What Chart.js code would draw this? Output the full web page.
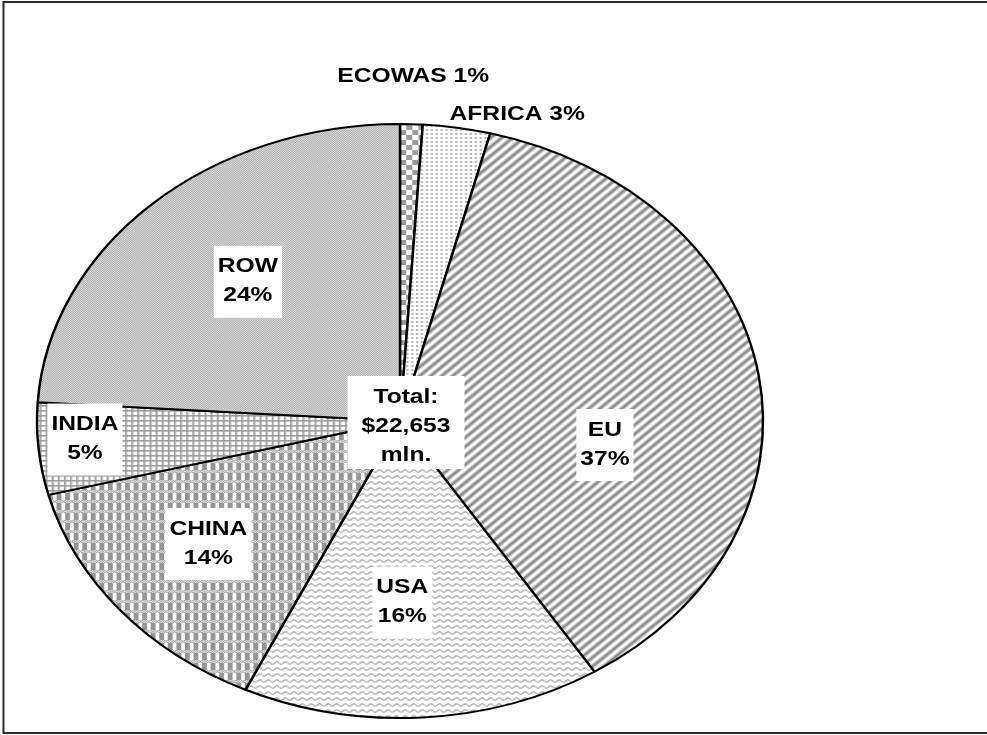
<!DOCTYPE html>
<html>
<head>
<meta charset="utf-8">
<script src="https://cdn.jsdelivr.net/npm/chart.js@4.4.1/dist/chart.umd.min.js"></script>
<style>
  html, body { margin: 0; padding: 0; background: #ffffff; }
  #wrap { position: relative; width: 987px; height: 735px; }
</style>
</head>
<body>
<div id="wrap"><canvas id="pie" width="987" height="735"></canvas></div>
<script>
// Export destinations and their share of the total (percent)
const regions = ['ECOWAS', 'AFRICA', 'EU', 'USA', 'CHINA', 'INDIA', 'ROW'];
const shares = [1, 3, 37, 16, 14, 5, 24];
const totalLines = ['Total:', '$22,653', 'mln.'];

// Where each label sits: angle shift from the slice middle (deg) and distance as a fraction of the radius
const labelPlacement = [
  { turn: 0,   reach: 1.16, boxed: false, oneLine: true },
  { turn: 8.4, reach: 1.08, boxed: false, oneLine: true },
  { turn: 17,  reach: 0.57, boxed: true,  oneLine: false },
  { turn: 3,   reach: 0.61, boxed: true,  oneLine: false },
  { turn: 1.6, reach: 0.67, boxed: true,  oneLine: false },
  { turn: 1.4, reach: 0.87, boxed: true,  oneLine: false },
  { turn: 1.5, reach: 0.63, boxed: true,  oneLine: false }
];

const STRETCH = 363 / 297;       // the pie is drawn as a wide ellipse
const FONT = 'bold 20px "Liberation Sans", Arial, Helvetica, sans-serif';
const TEXT_STRETCH = 1.23;
const LINE_GAP = 29;

function tile(w, h, paint) {
  const c = document.createElement('canvas');
  c.width = w; c.height = h;
  const g = c.getContext('2d');
  g.fillStyle = '#ffffff';
  g.fillRect(0, 0, w, h);
  paint(g, w, h);
  return document.createElement('canvas').getContext('2d').createPattern(c, 'repeat');
}

const fills = [
  // ECOWAS: coarse checkerboard
  tile(10, 10, (g) => {
    g.fillStyle = '#9c9c9c';
    g.fillRect(0, 0, 5, 5);
    g.fillRect(5, 5, 5, 5);
  }),
  // AFRICA: small dots
  tile(4, 4, (g) => {
    g.fillStyle = '#bcbcbc';
    g.fillRect(1, 1, 2, 2);
  }),
  // EU: wide soft diagonal stripes
  tile(9, 9, (g) => {
    g.lineCap = 'butt';
    [[4.2, '#d0d0d0'], [2.4, '#9a9a9a'], [1.2, '#8a8a8a']].forEach(([lw, col]) => {
      g.strokeStyle = col;
      g.lineWidth = lw;
      [0, 9, 18].forEach((c) => {
        g.beginPath();
        g.moveTo(c - 18, 18);
        g.lineTo(c + 18, -18);
        g.stroke();
      });
    });
  }),
  // USA: wavy lines
  tile(7, 6, (g) => {
    g.strokeStyle = '#a6a6a6';
    g.lineWidth = 1.1;
    g.beginPath();
    for (let x = 0; x <= 7; x += 0.25) {
      const y = 3 + 1.2 * Math.sin((2 * Math.PI * x) / 7);
      if (x === 0) g.moveTo(x, y); else g.lineTo(x, y);
    }
    g.stroke();
  }),
  // CHINA: plaid of blocks and dithered bands
  tile(7, 10, (g) => {
    for (let y = 0; y < 3; y++) {
      for (let x = 0; x < 7; x++) {
        g.fillStyle = (x + y) % 2 === 0 ? '#a8a8a8' : '#e4e4e4';
        g.fillRect(x, y, 1, 1);
      }
    }
    g.fillStyle = '#959595';
    g.fillRect(0, 3, 4, 7);
  }),
  // INDIA: open grid
  tile(5, 5, (g) => {
    g.fillStyle = '#9e9e9e';
    g.fillRect(0, 0, 5, 1.6);
    g.fillRect(0, 0, 1.6, 5);
  }),
  // ROW: fine dither
  tile(2, 2, (g) => {
    g.fillStyle = '#a6a6a6';
    g.fillRect(0, 0, 1, 1);
    g.fillRect(1, 1, 1, 1);
    g.fillStyle = '#e4e4e4';
    g.fillRect(1, 0, 1, 1);
    g.fillRect(0, 1, 1, 1);
  })
];

// Stretch the circular pie horizontally about its centre
const ellipsePlugin = {
  id: 'ellipse',
  beforeDatasetsDraw(chart) {
    const arc = chart.getDatasetMeta(0).data[0];
    const ctx = chart.ctx;
    ctx.save();
    ctx.translate(arc.x, 0);
    ctx.scale(STRETCH, 1);
    ctx.translate(-arc.x, 0);
  },
  afterDatasetsDraw(chart) {
    chart.ctx.restore();
  }
};

function drawBlock(ctx, lines, cx, cy, boxed, padX, padTop, padBottom) {
  ctx.font = FONT;
  const widths = lines.map((t) => ctx.measureText(t).width * TEXT_STRETCH);
  const w = Math.max(...widths);
  const first = cy - ((lines.length - 1) * LINE_GAP) / 2;
  const last = first + (lines.length - 1) * LINE_GAP;
  if (boxed) {
    ctx.fillStyle = '#ffffff';
    ctx.fillRect(cx - w / 2 - padX, first - padTop, w + 2 * padX, last - first + padTop + padBottom);
  }
  ctx.fillStyle = '#000000';
  ctx.textAlign = 'center';
  ctx.textBaseline = 'middle';
  lines.forEach((t, i) => {
    ctx.save();
    ctx.translate(cx, first + i * LINE_GAP);
    ctx.scale(TEXT_STRETCH, 1);
    ctx.fillText(t, 0, 0);
    ctx.restore();
  });
}

const labelPlugin = {
  id: 'sliceLabels',
  afterDraw(chart) {
    const ctx = chart.ctx;
    const arcs = chart.getDatasetMeta(0).data;
    const cx = arcs[0].x, cy = arcs[0].y, R = arcs[0].outerRadius;
    ctx.save();
    arcs.forEach((arc, i) => {
      const p = labelPlacement[i];
      const a = (arc.startAngle + arc.endAngle) / 2 + (p.turn * Math.PI) / 180;
      const x = cx + Math.cos(a) * R * p.reach * STRETCH;
      const y = cy + Math.sin(a) * R * p.reach;
      const pct = shares[i] + '%';
      const lines = p.oneLine ? [regions[i] + ' ' + pct] : [regions[i], pct];
      drawBlock(ctx, lines, x, y, p.boxed, 4, 21, 22);
    });
    // Total in the middle of the pie
    drawBlock(ctx, totalLines, cx + 6, cy + 5, true, 14, 21, 14);

    // Chart frame
    ctx.strokeStyle = '#2a2a2a';
    ctx.lineWidth = 2;
    ctx.strokeRect(3.5, 2, 1000, 731);
    ctx.restore();
  }
};

new Chart(document.getElementById('pie'), {
  type: 'pie',
  data: {
    labels: regions,
    datasets: [{
      data: shares,
      backgroundColor: fills,
      borderColor: '#000000',
      borderWidth: 2,
      clip: false
    }]
  },
  options: {
    responsive: false,
    animation: false,
    events: [],
    layout: { padding: { top: 123, bottom: 16, left: 100, right: 287 } },
    plugins: {
      legend: { display: false },
      tooltip: { enabled: false }
    }
  },
  plugins: [ellipsePlugin, labelPlugin]
});
</script>
</body>
</html>
